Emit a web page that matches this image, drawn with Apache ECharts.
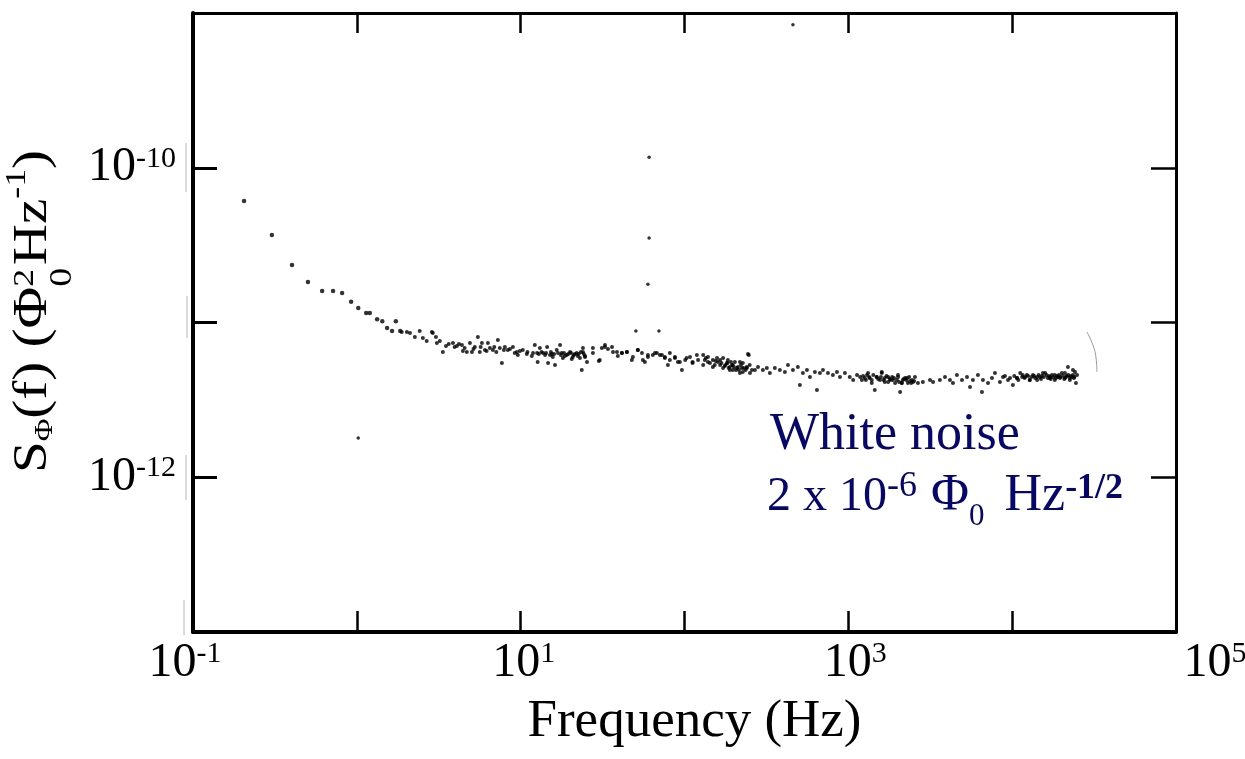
<!DOCTYPE html>
<html><head><meta charset="utf-8">
<script src="https://cdn.jsdelivr.net/npm/echarts@6/dist/echarts.min.js"></script>
<style>html,body{margin:0;padding:0;background:#fff}#c{width:1245px;height:759px}</style>
</head><body><div id="c"></div>
<script>
// ---- data: [frequency (Hz), S_phi (Phi0^2/Hz)] ----
const rolloff = [
 [0.205,6.1e-11],[0.303,3.67e-11],[0.402,2.35e-11],[0.503,1.83e-11],[0.614,1.60e-11],
 [0.716,1.60e-11],[0.813,1.55e-11],[0.923,1.36e-11],[1.02,1.24e-11],[1.14,1.15e-11],
 [1.20,1.15e-11],[1.33,1.05e-11],[1.43,1.02e-11],[1.73,1.02e-11],[1.53,9.2e-12],
 [1.64,8.8e-12],[1.84,8.8e-12]
];
const floorLow = [
 [1.88,8.68e-12],[2.02,8.68e-12],[2.11,8.55e-12],[2.26,8.06e-12],[2.42,8.81e-12],[2.53,7.94e-12],
 [2.67,7.60e-12],[2.87,8.68e-12],[2.91,8.55e-12],[3.04,8.06e-12],[3.08,7.37e-12],[3.21,7.60e-12],
 [3.35,6.45e-12],[3.64,7.26e-12],[3.86,7.37e-12],[4.08,7.05e-12],[4.38,7.15e-12],[4.44,6.54e-12],
 [4.69,6.45e-12],[4.90,7.37e-12],[5.04,6.45e-12],[5.25,6.94e-12],[5.48,8.06e-12],[5.63,6.45e-12],
 [5.80,7.37e-12],[6.05,6.64e-12],[6.31,7.37e-12],[6.49,6.84e-12],[6.77,6.64e-12],[7.26,7.71e-12],
 [7.46,6.84e-12],[7.68,5.47e-12],[8.01,6.94e-12],[8.35,6.64e-12],[8.96,6.94e-12],[9.48,6.45e-12],
 [9.61,6.17e-12],[10.3,6.64e-12],[10.9,6.26e-12],[11.7,6.07e-12],[12.2,7.15e-12],[12.6,6.35e-12],
 [12.7,5.56e-12],[13.1,6.84e-12],[13.7,6.35e-12],[14.1,6.17e-12],[14.5,6.94e-12],[14.7,5.47e-12],
 [15.1,6.17e-12],[15.5,6.26e-12],[15.7,5.98e-12],[16.2,5.31e-12],[16.6,6.64e-12],[17.4,7.15e-12],
 [17.8,6.35e-12],[18.1,5.90e-12],[18.6,6.07e-12],[19.1,6.17e-12],[20.0,6.45e-12],[20.5,5.81e-12],
 [20.8,5.98e-12],[21.4,6.26e-12],[22.0,6.35e-12],[22.3,6.07e-12],[23.0,5.90e-12],[23.6,4.93e-12],
 [24.0,6.84e-12],[24.3,6.26e-12],[24.7,6.07e-12],[25.4,5.56e-12],[27.6,6.35e-12],[30.0,5.64e-12],
 [31.3,6.84e-12],[32.7,6.94e-12],[34.1,6.74e-12],[36.6,6.45e-12],[39.2,6.07e-12],[41.5,6.35e-12],
 [44.5,6.45e-12],[47.7,5.72e-12],[51.9,6.64e-12],[55.0,6.35e-12],[57.3,5.56e-12],[59.8,5.98e-12],
 [64.1,6.17e-12],[67.8,6.35e-12],[72.8,6.17e-12],[75.9,5.98e-12],[79.2,5.31e-12],[81.4,6.35e-12],
 [87.4,5.90e-12],[91.1,5.56e-12],[96.4,4.93e-12],[101,5.72e-12],[108,5.98e-12],[112,5.56e-12],
 [119,6.17e-12]
];
const floorLowDense = [
 [3.5,7.05e-12],[3.95,6.94e-12],[4.2,7.26e-12],[4.55,6.84e-12],[5.15,6.74e-12],[5.7,6.94e-12],
 [6.2,6.54e-12],[6.9,6.94e-12],[7.1,6.45e-12],[7.9,6.64e-12],[8.6,6.74e-12],[9.2,6.35e-12],[9.9,6.54e-12],
 [11.0,6.45e-12],[11.9,6.35e-12],[12.9,6.26e-12],[13.4,6.45e-12],[14.3,6.35e-12],[15.3,6.45e-12],
 [16.0,6.26e-12],[16.9,6.35e-12],[17.6,6.17e-12],[18.4,6.35e-12],[19.5,6.26e-12],[20.3,6.35e-12],
 [21.1,6.17e-12],[22.6,6.26e-12],[23.3,6.45e-12],[24.0,6.45e-12],[24.7,5.98e-12],[27.6,6.84e-12],
 [30.4,5.72e-12],[32.7,7.15e-12],[36.1,6.94e-12],[38.7,6.45e-12],[41.5,6.35e-12],[44.5,6.45e-12],
 [48.4,5.98e-12],[51.9,6.64e-12],[55.7,5.72e-12],[59.8,6.17e-12],[66.0,6.35e-12],[70.8,6.17e-12],
 [75.9,5.90e-12],[81.4,5.72e-12],[87.4,5.98e-12],[93.7,5.56e-12],[103,5.90e-12],[112,5.47e-12],
 [121,5.72e-12]
];
const floorHigh = [
 [130,6.17e-12],[133,5.72e-12],[139,5.98e-12],[149,5.72e-12],[153,5.31e-12],[160,5.56e-12],
 [165,5.72e-12],[172,5.90e-12],[176,5.24e-12],[182,5.47e-12],[184,5.72e-12],[189,5.16e-12],
 [195,5.31e-12],[197,4.93e-12],[203,5.56e-12],[206,4.93e-12],[212,5.16e-12],[218,4.72e-12],
 [224,5.08e-12],[227,5.47e-12],[240,5.08e-12],[247,6.17e-12],[251,4.72e-12],[269,4.93e-12],
 [281,5.16e-12],[301,4.93e-12],[318,5.08e-12],[332,4.72e-12],[356,5.08e-12],[382,4.93e-12],
 [410,4.79e-12],[428,5.31e-12],[459,4.93e-12],[492,5.16e-12],[506,3.95e-12],[528,4.72e-12],
 [559,4.93e-12],[583,4.44e-12],[625,4.79e-12],[643,3.66e-12],[671,4.72e-12],[700,4.93e-12],
 [751,4.72e-12],[805,4.58e-12],[852,4.79e-12],[889,4.44e-12],[953,4.72e-12],[1020,4.44e-12],
 [1070,4.25e-12],[1130,4.58e-12],[1180,4.44e-12],[1210,4.25e-12],[1260,4.38e-12],[1320,4.72e-12],
 [1350,4.38e-12],[1390,4.07e-12],[1450,3.66e-12],[1490,4.44e-12],[1560,4.25e-12],[1600,4.72e-12],
 [1670,4.38e-12],[1750,4.13e-12],[1790,4.31e-12],[1850,4.44e-12],[1930,4.07e-12],[1980,4.25e-12],
 [2010,4.44e-12],[2070,3.55e-12],[2120,4.07e-12],[2150,4.25e-12],[2220,4.38e-12],[2310,4.07e-12],
 [2380,4.19e-12],[2480,4.13e-12],[2660,4.07e-12],[2850,4.13e-12],[3150,4.25e-12],[3290,4.13e-12],
 [3620,4.25e-12],[3890,4.44e-12],[4170,4.25e-12],[4350,4.07e-12],[4600,4.58e-12],[4940,4.25e-12],
 [5300,4.44e-12],[5530,3.83e-12],[5760,4.25e-12],[6180,4.58e-12],[6540,3.55e-12],[6630,4.25e-12],
 [7120,4.07e-12],[7530,4.38e-12],[7850,4.72e-12],[8420,4.13e-12],[8790,4.44e-12],[9040,4.51e-12],
 [9430,4.25e-12],[9700,4.38e-12],[10100,3.95e-12],[10700,4.38e-12],[11200,4.72e-12],[11500,4.44e-12],
 [12000,4.44e-12],[12500,4.51e-12],[12800,4.25e-12],[13400,4.58e-12],[13800,4.38e-12],[14200,4.25e-12],
 [14800,4.44e-12],[15200,4.51e-12],[15900,4.72e-12],[16500,4.38e-12],[17000,4.44e-12],[17500,4.58e-12],
 [18200,4.25e-12],[18800,4.51e-12],[19000,4.44e-12],[19600,4.38e-12],[20100,4.72e-12],[21000,4.38e-12],
 [21600,4.51e-12],[21900,5.16e-12],[22500,4.25e-12],[23200,4.44e-12],[23500,4.58e-12],[24200,4.79e-12],
 [24500,4.07e-12]
];
const floorHighDense = [
 [130,5.31e-12],[135,5.90e-12],[139,5.56e-12],[143,5.47e-12],[149,5.16e-12],[155,5.64e-12],
 [158,5.90e-12],[165,5.31e-12],[168,5.47e-12],[172,5.08e-12],[178,5.31e-12],[182,5.47e-12],
 [186,5.08e-12],[189,4.93e-12],[192,5.56e-12],[197,5.31e-12],[200,5.16e-12],[209,5.08e-12],
 [215,4.93e-12],[218,5.56e-12],[221,5.31e-12],[227,4.79e-12],[230,5.08e-12],[236,4.93e-12],
 [240,5.16e-12],[244,6.26e-12],[250,5.31e-12],[258,4.93e-12],
 [1230,4.51e-12],[1280,4.25e-12],[1300,4.58e-12],[1340,4.44e-12],[1390,4.25e-12],[1420,4.58e-12],
 [1490,4.44e-12],[1520,4.31e-12],[1580,4.44e-12],[1600,4.79e-12],[1640,4.25e-12],[1670,4.13e-12],
 [1710,4.51e-12],[1750,4.44e-12],[1810,4.25e-12],[1870,4.25e-12],[1900,4.38e-12],[2010,4.58e-12],
 [2040,4.13e-12],[2120,4.07e-12],[2180,4.31e-12],[2260,4.25e-12],[2280,4.38e-12],[2350,4.44e-12],
 [2420,4.07e-12],[2450,4.25e-12],[2520,4.19e-12],[2550,4.44e-12],
 [10300,4.51e-12],[10700,4.38e-12],[10900,4.25e-12],[11600,4.58e-12],[11900,4.38e-12],[12300,4.58e-12],
 [12800,4.25e-12],[13100,4.44e-12],[13600,4.51e-12],[14200,4.44e-12],[14500,4.58e-12],[15000,4.31e-12],
 [15400,4.72e-12],[15600,4.44e-12],[16200,4.58e-12],[16800,4.51e-12],[17000,4.38e-12],[17200,4.31e-12],
 [17800,4.44e-12],[18200,4.58e-12],[18500,4.38e-12],[19300,4.58e-12],[19600,4.44e-12],[20400,4.51e-12],
 [20800,4.31e-12],[21000,4.72e-12],[21300,4.44e-12],[22000,4.58e-12],[22500,4.38e-12],[22800,4.51e-12],
 [23500,4.93e-12],[23800,4.38e-12],[24000,4.44e-12],[24900,4.58e-12]
];
const spurs = [
 [50.5,8.81e-12],[69.8,8.81e-12],[60.8,1.17e-10],[60.8,3.52e-11],[59.8,1.77e-11],
 [1.02,1.79e-12],[459,8.4e-10]
];
const scanArc = [[28600,8.68e-12],[31100,7.15e-12],[32500,5.90e-12],[32900,4.79e-12]];

const xLabelExps = [-1, 1, 3, 5];
const yLabelExps = [-10, -12];
const xAxisTitle = 'Frequency (Hz)';
const noteLine1 = 'White noise';

// ---- styling ----
const SERIF = '"Liberation Serif","Times New Roman",serif';
const NAVY = '#07076b';
const xShift = {'-1': 'L', '1': 'R1', '3': 'R3', '5': 'R5'};

function ex(v){ return Math.round(Math.log10(v)); }

const ctx = document.createElement('canvas').getContext('2d');
function buildRuns(runs, color) {
  let x = 0, hold = 0; const els = [];
  runs.forEach(r => {
    x += (r.gap || 0);
    const font = (r.bold ? 'bold ' : '') + r.size + 'px ' + SERIF;
    ctx.font = font;
    const w = ctx.measureText(r.text).width;
    els.push({type:'text', x: x, y: (r.dy || 0) - 0.32 * r.size, silent: true,
      style: {text: r.text, font: font, fill: color, textAlign: 'left', textVerticalAlign: 'middle', verticalAlign: 'middle'}});
    if (r.stack) { hold = Math.max(hold, w); } else { x += Math.max(w, hold); hold = 0; }
  });
  return {els, width: x};
}

const yName = buildRuns([
  {text:'S', size:48}, {text:'Φ', size:26, dy:4}, {text:'(f) (', size:48},
  {text:'Φ', size:48}, {text:'2', size:30, dy:-14, stack:true}, {text:'0', size:32, dy:24},
  {text:'Hz', size:48, gap:2}, {text:'-1', size:30, dy:-22}, {text:')', size:48}
], '#000');
const yScale = 323 / yName.width;

const note2 = buildRuns([
  {text:'2 x 10', size:48}, {text:'-6', size:36, dy:-15}, {text:'Φ', size:52, gap:14},
  {text:'0', size:31, dy:14}, {text:'Hz', size:52, gap:20}, {text:'-1/2', size:36, dy:-13, bold:true}
], NAVY);
const note1 = buildRuns([{text: noteLine1, size:52}], NAVY);

const tickBase = {fontFamily: SERIF, color: '#000'};
const XF = 48, XS = 30;
const xRich = {
  L: Object.assign({fontSize:XF, lineHeight:XF}, tickBase),
  R1: Object.assign({fontSize:XF, lineHeight:XF, padding:[0,0,0,6]}, tickBase),
  R3: Object.assign({fontSize:XF, lineHeight:XF, padding:[0,0,0,14]}, tickBase),
  R5: Object.assign({fontSize:XF, lineHeight:XF, padding:[0,0,0,78]}, tickBase),
  s: Object.assign({fontSize:XS, lineHeight:XS, verticalAlign:'top'}, tickBase),
  sL: Object.assign({fontSize:XS, lineHeight:XS, verticalAlign:'top', padding:[0,16,0,0]}, tickBase)
};
const yRich = {
  b: Object.assign({fontSize:48, lineHeight:48}, tickBase),
  s: Object.assign({fontSize:30, lineHeight:30, verticalAlign:'top'}, tickBase)
};

function dots(name, data, size) {
  return {name, type:'scatter', data, symbol:'circle', symbolSize:size, itemStyle:{color:'#000'}, silent:true, z:3};
}

const scanMarks = [[186,143,192],[187,296,338],[186,455,500],[184,600,635]].map(a => ({
  type:'line', silent:true, shape:{x1:a[0], y1:a[1], x2:a[0], y2:a[2]}, style:{stroke:'#b5b5b5', lineWidth:1}
}));

const chart = echarts.init(document.getElementById('c'));
chart.setOption({
  animation: false,
  backgroundColor: '#fff',
  grid: {left:193, right:69, top:13, bottom:127, containLabel:false, outerBoundsMode:'none'},
  xAxis: [{
    type:'log', logBase:10, min:0.1, max:1e5, position:'bottom',
    axisLine:{lineStyle:{color:'#000', width:4}},
    axisTick:{inside:true, length:21, lineStyle:{color:'#000', width:2.5}},
    splitLine:{show:false}, minorTick:{show:false},
    axisLabel:{margin:7, hideOverlap:false, formatter: v => {
      const e = ex(v); if (!xLabelExps.includes(e)) return '';
      const k = xShift[String(e)];
      return '{' + k + '|10}{' + (k === 'L' ? 'sL' : 's') + '|' + e + '}';
    }, rich: xRich},
    name: xAxisTitle, nameLocation:'middle', nameGap:64,
    nameTextStyle:{fontFamily:SERIF, fontSize:53, color:'#000', padding:[0,0,0,20]}
  }, {
    type:'log', logBase:10, min:0.1, max:1e5, position:'top',
    axisLine:{lineStyle:{color:'#000', width:3}},
    axisTick:{inside:true, length:20, lineStyle:{color:'#000', width:2.5}},
    axisLabel:{show:false}, splitLine:{show:false}
  }],
  yAxis: [{
    type:'log', logBase:10, min:1e-13, max:1e-9, position:'left',
    axisLine:{lineStyle:{color:'#000', width:4}},
    axisTick:{inside:true, length:24, lineStyle:{color:'#000', width:3}},
    splitLine:{show:false}, minorTick:{show:false},
    axisLabel:{margin:17, formatter: v => {
      const e = ex(v); if (!yLabelExps.includes(e)) return '';
      return '{b|10}{s|' + e + '}';
    }, rich: yRich}
  }, {
    type:'log', logBase:10, min:1e-13, max:1e-9, position:'right',
    axisLine:{lineStyle:{color:'#000', width:3}},
    axisTick:{inside:true, length:25, lineStyle:{color:'#000', width:2.5}},
    axisLabel:{show:false}, splitLine:{show:false}
  }],
  series: [
    dots('rolloff', rolloff, 4.5),
    dots('floorLow', floorLow, 4),
    dots('floorLowDense', floorLowDense, 4),
    dots('floorHigh', floorHigh, 4),
    dots('floorHighDense', floorHighDense, 4),
    dots('spurs', spurs, 3.5),
    {name:'scanArc', type:'line', data:scanArc, smooth:true, symbol:'none', silent:true,
     lineStyle:{color:'#999', width:1}}
  ],
  graphic: [
    {type:'group', x:49, y:473, rotation:Math.PI/2, scaleX:yScale, children: yName.els},
    {type:'group', x:770, y:452, children: note1.els},
    {type:'group', x:767, y:513, children: note2.els}
  ].concat(scanMarks)
});
</script>
</body></html>
